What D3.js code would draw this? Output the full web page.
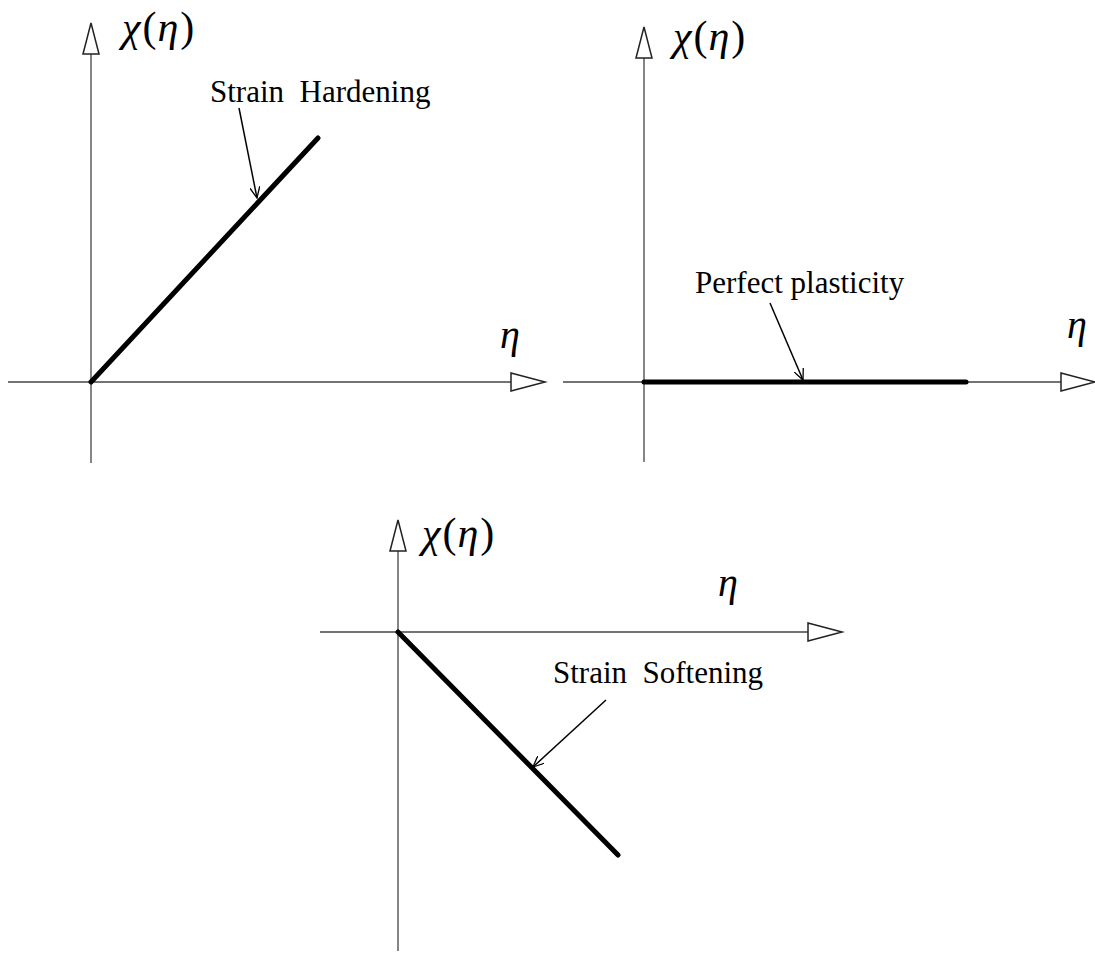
<!DOCTYPE html>
<html><head><meta charset="utf-8">
<script src="https://cdn.jsdelivr.net/npm/d3@7"></script>
<style>body{margin:0;background:#fff}svg{display:block}text{font-family:"Liberation Serif","Times New Roman",serif;fill:#000}</style>
</head><body>
<script>
// data (abstract units: 1 unit = 100px)
const panelNames = ["Strain  Hardening", "Perfect plasticity", "Strain  Softening"];
const hardening = [[0, 0], [2.27, 2.44]];
const perfect = [[0, 0], [3.22, 0]];
const softening = [[0, 0], [2.2, -2.23]];
const series = [hardening, perfect, softening];
const yLabel = "χ(η)";
const xLabel = "η";

const W = 1095, H = 953;
const svg = d3.select("body").append("svg").attr("width", W).attr("height", H);
const defs = svg.append("defs");
defs.append("marker").attr("id", "arr").attr("viewBox", "0 0 12 10").attr("refX", 11).attr("refY", 5)
  .attr("markerWidth", 12).attr("markerHeight", 10).attr("markerUnits", "userSpaceOnUse").attr("orient", "auto")
  .append("path").attr("d", "M0,0 L11,5 L0,10").attr("fill", "none").attr("stroke", "#000").attr("stroke-width", 1.3);

// layout per panel
const layout = [
  {ox: 91, oy: 382, xd: [-0.83, 4.54], yd: [-0.81, 3.59], ylab: [122, 41], xlab: [500, 348],
   ann: {text: [210, 102], from: [1.48, 2.74], to: [1.66, 1.84]}},
  {ox: 644, oy: 382, xd: [-0.81, 4.51], yd: [-0.80, 3.55], ylab: [673, 50], xlab: [1067, 338],
   ann: {text: [695, 293], from: [1.26, 0.79], to: [1.59, 0.02]}},
  {ox: 398, oy: 632, xd: [-0.78, 4.44], yd: [-3.19, 1.12], ylab: [422, 547], xlab: [718, 596],
   ann: {text: [553, 683], from: [2.08, -0.68], to: [1.35, -1.35]}}
];

layout.forEach((L, i) => {
  const x = d3.scaleLinear().domain([0, 1]).range([L.ox, L.ox + 100]);
  const y = d3.scaleLinear().domain([0, 1]).range([L.oy, L.oy - 100]);
  const g = svg.append("g");
  // horizontal axis
  const hx0 = x(L.xd[0]), hx1 = x(L.xd[1]);
  g.append("line").attr("x1", hx0).attr("x2", hx1 - 34).attr("y1", y(0)).attr("y2", y(0))
    .attr("stroke", "#444").attr("stroke-width", 1.3);
  g.append("path").attr("d", `M${hx1 - 34},${y(0) - 9} L${hx1},${y(0)} L${hx1 - 34},${y(0) + 9} Z`)
    .attr("fill", "#fff").attr("stroke", "#222").attr("stroke-width", 1.5);
  // vertical axis
  const vy0 = y(L.yd[0]), vy1 = y(L.yd[1]);
  g.append("line").attr("x1", x(0)).attr("x2", x(0)).attr("y1", vy0).attr("y2", vy1 + 31)
    .attr("stroke", "#444").attr("stroke-width", 1.3);
  g.append("path").attr("d", `M${x(0) - 8},${vy1 + 31} L${x(0)},${vy1} L${x(0) + 8},${vy1 + 31} Z`)
    .attr("fill", "#fff").attr("stroke", "#222").attr("stroke-width", 1.5);
  // data line
  g.append("path").datum(series[i])
    .attr("d", d3.line().x(d => x(d[0])).y(d => y(d[1])))
    .attr("fill", "none").attr("stroke", "#000").attr("stroke-width", 5).attr("stroke-linecap", "round");
  // y label
  const t = g.append("text").attr("x", L.ylab[0]).attr("y", L.ylab[1]).attr("font-size", 42);
  t.append("tspan").attr("font-style", "italic").text(yLabel[0]);
  t.append("tspan").attr("dx", 2).text(yLabel[1]);
  t.append("tspan").attr("dx", 1).attr("font-style", "italic").text(yLabel[2]);
  t.append("tspan").attr("dx", 2).text(yLabel[3]);
  // x label
  g.append("text").attr("x", L.xlab[0]).attr("y", L.xlab[1]).attr("font-size", 40)
    .attr("font-style", "italic").text(xLabel);
  // annotation
  g.append("text").attr("x", L.ann.text[0]).attr("y", L.ann.text[1]).attr("font-size", 31)
    .style("white-space", "pre").text(panelNames[i]);
  g.append("line").attr("x1", x(L.ann.from[0])).attr("y1", y(L.ann.from[1]))
    .attr("x2", x(L.ann.to[0])).attr("y2", y(L.ann.to[1]))
    .attr("stroke", "#000").attr("stroke-width", 1.5).attr("marker-end", "url(#arr)");
});
</script>
</body></html>
